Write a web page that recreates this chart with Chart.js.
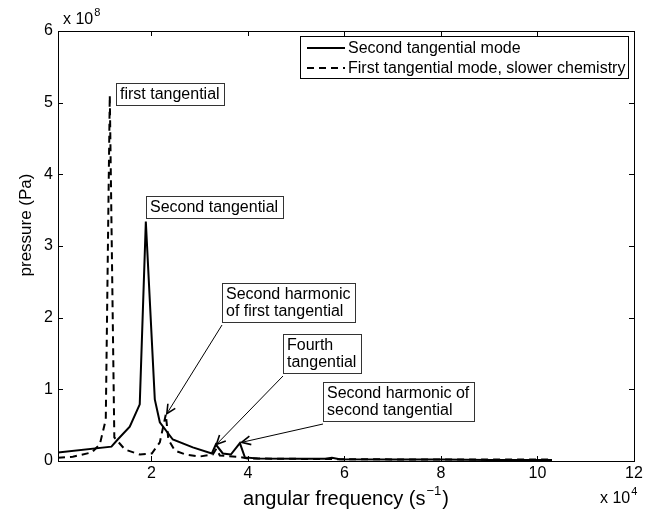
<!DOCTYPE html>
<html>
<head>
<meta charset="utf-8">
<script src="https://cdn.jsdelivr.net/npm/chart.js@4.4.1/dist/chart.umd.min.js"></script>
<style>
  html, body { margin: 0; padding: 0; background: #fff; }
  #wrap { width: 658px; height: 512px; }
</style>
</head>
<body>
<div id="wrap"><canvas id="spectrum" width="658" height="512"></canvas></div>
<script>
// angular frequency (s^-1) and pressure amplitude (Pa)
const secondTangFreq = [628, 11700, 13000, 15500, 17570, 18830, 20690, 21730, 24420, 28570, 32510, 33340, 34790, 36450, 38320, 39360, 42000, 50000, 56000, 57400, 59000, 70000, 80000, 90000, 103000];
const secondTangPres = [0.118e8, 0.2e8, 0.3e8, 0.48e8, 0.79e8, 3.34e8, 0.86e8, 0.54e8, 0.3e8, 0.19e8, 0.105e8, 0.23e8, 0.105e8, 0.09e8, 0.25e8, 0.05e8, 0.035e8, 0.03e8, 0.03e8, 0.045e8, 0.025e8, 0.02e8, 0.02e8, 0.015e8, 0.015e8];

const firstTangFreq = [628, 3700, 7630, 9290, 10530, 11360, 12300, 14500, 17600, 20070, 21730, 22970, 23500, 24840, 27120, 30020, 32700, 33440, 34170, 38320, 39980, 50000, 60000, 80000, 103000];
const firstTangPres = [0.045e8, 0.06e8, 0.12e8, 0.23e8, 0.58e8, 5.1e8, 0.33e8, 0.16e8, 0.09e8, 0.105e8, 0.26e8, 0.65e8, 0.3e8, 0.146e8, 0.09e8, 0.063e8, 0.09e8, 0.17e8, 0.077e8, 0.056e8, 0.035e8, 0.03e8, 0.025e8, 0.02e8, 0.02e8];

const seriesLabels = ['Second tangential mode', 'First tangential mode, slower chemistry'];

const xTickValues = [20000, 40000, 60000, 80000, 100000, 120000];
const yTickValues = [0, 1e8, 2e8, 3e8, 4e8, 5e8, 6e8];

// callouts: text lines, box top-left in data units, optional arrow tip in data units
const noteLines = [['first tangential'], ['Second tangential'], ['Second harmonic', 'of first tangential'], ['Fourth', 'tangential'], ['Second harmonic of', 'second tangential']];
const noteBoxX = [12600, 18850, 34700, 47200, 55600];
const noteBoxY = [5.27e8, 3.70e8, 2.48e8, 1.776e8, 1.10e8];
const noteTipX = [null, null, 23180, 33450, 38670];
const noteTipY = [null, null, 0.66e8, 0.23e8, 0.26e8];

const FONT = '"Liberation Sans", Arial, sans-serif';

function toXY(xs, ys) {
    return xs.map((x, i) => ({ x: x, y: ys[i] }));
}

// text with a superscript power, e.g. "x 10" + "8"
function drawPower(ctx, base, power, x, y, size) {
    ctx.font = size + 'px ' + FONT;
    ctx.textAlign = 'left';
    ctx.textBaseline = 'alphabetic';
    ctx.fillText(base, x, y);
    const w = ctx.measureText(base).width;
    ctx.font = Math.round(size * 0.7) + 'px ' + FONT;
    ctx.fillText(power, x + w + 1, y - size * 0.5);
}

function drawArrow(ctx, x0, y0, x1, y1) {
    ctx.beginPath();
    ctx.moveTo(x0, y0);
    ctx.lineTo(x1, y1);
    ctx.stroke();
    const a = Math.atan2(y1 - y0, x1 - x0);
    const len = 10, spread = 0.45;
    ctx.beginPath();
    ctx.moveTo(x1 - len * Math.cos(a - spread), y1 - len * Math.sin(a - spread));
    ctx.lineTo(x1, y1);
    ctx.lineTo(x1 - len * Math.cos(a + spread), y1 - len * Math.sin(a + spread));
    ctx.lineWidth = 1.6;
    ctx.stroke();
    ctx.lineWidth = 1;
}

const framePlugin = {
    id: 'matlabFrame',
    afterDraw(chart) {
        const ctx = chart.ctx;
        const area = chart.chartArea;
        const xs = chart.scales.x, ys = chart.scales.y;
        ctx.save();
        ctx.strokeStyle = '#000';
        ctx.fillStyle = '#000';
        ctx.lineWidth = 1;

        // axes box
        ctx.strokeRect(area.left + 0.5, area.top + 0.5, area.right - area.left, area.bottom - area.top);

        // inward ticks on all four sides
        ctx.beginPath();
        xs.ticks.forEach(t => {
            const px = Math.round(xs.getPixelForValue(t.value)) + 0.5;
            ctx.moveTo(px, area.bottom);
            ctx.lineTo(px, area.bottom - 5);
            ctx.moveTo(px, area.top);
            ctx.lineTo(px, area.top + 5);
        });
        ys.ticks.forEach(t => {
            const py = Math.round(ys.getPixelForValue(t.value)) + 0.5;
            ctx.moveTo(area.left, py);
            ctx.lineTo(area.left + 5, py);
            ctx.moveTo(area.right, py);
            ctx.lineTo(area.right - 5, py);
        });
        ctx.stroke();

        // exponent labels
        drawPower(ctx, 'x 10', '8', area.left + 5, 24, 16);
        drawPower(ctx, 'x 10', '4', 600, 503, 16);

        // x axis title with superscript
        ctx.font = '20px ' + FONT;
        const t1 = 'angular frequency (s';
        const supTxt = '\u22121';
        const w1 = ctx.measureText(t1).width;
        ctx.font = '13px ' + FONT;
        const wSup = ctx.measureText(supTxt).width;
        ctx.font = '20px ' + FONT;
        const wEnd = ctx.measureText(')').width;
        const total = w1 + wSup + wEnd + 2;
        let tx = (area.left + area.right) / 2 - total / 2;
        ctx.textAlign = 'left';
        ctx.textBaseline = 'alphabetic';
        ctx.fillText(t1, tx, 505);
        ctx.font = '13px ' + FONT;
        ctx.fillText(supTxt, tx + w1 + 1, 495);
        ctx.font = '20px ' + FONT;
        ctx.fillText(')', tx + w1 + wSup + 2, 505);

        // y axis title
        ctx.save();
        ctx.translate(31, 225);
        ctx.rotate(-Math.PI / 2);
        ctx.font = '17px ' + FONT;
        ctx.textAlign = 'center';
        ctx.textBaseline = 'alphabetic';
        ctx.fillText('pressure (Pa)', 0, 0);
        ctx.restore();

        // legend box
        const lg = { left: 300, top: 36, right: 628, bottom: 78 };
        ctx.fillStyle = '#fff';
        ctx.fillRect(lg.left, lg.top, lg.right - lg.left, lg.bottom - lg.top);
        ctx.strokeStyle = '#000';
        ctx.strokeRect(lg.left + 0.5, lg.top + 0.5, lg.right - lg.left, lg.bottom - lg.top);
        ctx.fillStyle = '#000';
        ctx.font = '16px ' + FONT;
        ctx.textBaseline = 'middle';
        chart.data.datasets.forEach((ds, i) => {
            const cy = 48 + i * 20;
            ctx.beginPath();
            ctx.setLineDash(ds.borderDash || []);
            ctx.lineWidth = ds.borderWidth;
            ctx.moveTo(307, cy);
            ctx.lineTo(345, cy);
            ctx.stroke();
            ctx.setLineDash([]);
            ctx.lineWidth = 1;
            ctx.fillText(ds.label, 348, cy + 1);
        });

        // callout boxes and arrows
        ctx.font = '16px ' + FONT;
        noteLines.forEach((lines, i) => {
            const bx = Math.round(xs.getPixelForValue(noteBoxX[i]));
            const by = Math.round(ys.getPixelForValue(noteBoxY[i]));
            let w = 0;
            lines.forEach(s => { w = Math.max(w, ctx.measureText(s).width); });
            const bw = Math.ceil(w) + 8;
            const bh = lines.length * 17 + 5;
            ctx.fillStyle = '#fff';
            ctx.fillRect(bx, by, bw, bh);
            ctx.strokeStyle = '#333';
            ctx.strokeRect(bx + 0.5, by + 0.5, bw, bh);
            ctx.fillStyle = '#000';
            ctx.textAlign = 'left';
            ctx.textBaseline = 'middle';
            lines.forEach((s, k) => ctx.fillText(s, bx + 4, by + 3 + 8.5 + k * 17));
            if (noteTipX[i] !== null) {
                ctx.strokeStyle = '#000';
                drawArrow(ctx, bx, by + bh + 3,
                    xs.getPixelForValue(noteTipX[i]), ys.getPixelForValue(noteTipY[i]));
            }
        });
        ctx.restore();
    }
};

new Chart(document.getElementById('spectrum'), {
    type: 'line',
    data: {
        datasets: [{
            label: seriesLabels[0],
            data: toXY(secondTangFreq, secondTangPres),
            borderColor: '#000',
            borderWidth: 2,
            pointRadius: 0,
            tension: 0,
            fill: false
        }, {
            label: seriesLabels[1],
            data: toXY(firstTangFreq, firstTangPres),
            borderColor: '#000',
            borderWidth: 2,
            borderDash: [7, 5],
            pointRadius: 0,
            tension: 0,
            fill: false
        }]
    },
    options: {
        responsive: false,
        animation: false,
        layout: { padding: { top: 31, right: 24, left: 0, bottom: 0 } },
        scales: {
            x: {
                type: 'linear',
                min: 628,
                max: 120000,
                afterBuildTicks: s => { s.ticks = xTickValues.map(v => ({ value: v })); },
                afterFit: s => { s.height = 51; },
                grid: { display: false, drawTicks: false },
                border: { display: false },
                ticks: {
                    color: '#000',
                    padding: 3,
                    maxRotation: 0,
                    font: { family: FONT, size: 16 },
                    callback: v => String(v / 1e4)
                }
            },
            y: {
                type: 'linear',
                min: 0,
                max: 6e8,
                afterBuildTicks: s => { s.ticks = yTickValues.map(v => ({ value: v })); },
                afterFit: s => { s.width = 58; },
                grid: { display: false, drawTicks: false },
                border: { display: false },
                ticks: {
                    color: '#000',
                    padding: 5,
                    font: { family: FONT, size: 16 },
                    callback: v => String(v / 1e8)
                }
            }
        },
        plugins: {
            legend: { display: false },
            tooltip: { enabled: false }
        }
    },
    plugins: [framePlugin]
});
</script>
</body>
</html>
